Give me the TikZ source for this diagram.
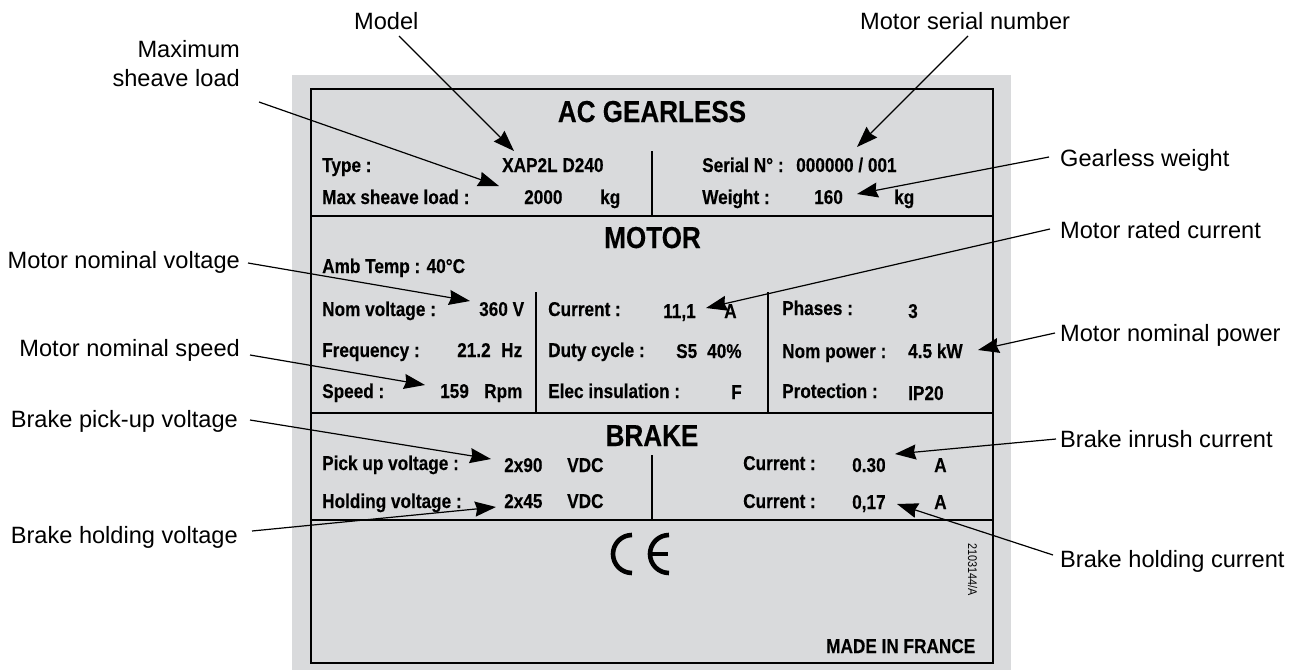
\documentclass[tikz,border=0pt]{standalone}
\usepackage{fontspec}
\setmainfont{Liberation Sans}
\newfontfamily\narrowb[FakeStretch=0.86,FakeBold=0.25]{Liberation Sans Bold}
\newfontfamily\narrowr[FakeStretch=0.86]{Liberation Sans}
\usetikzlibrary{arrows.meta}
\definecolor{plate}{HTML}{D9DADC}
\tikzset{
  lbl/.style={inner sep=0pt,text height=17pt,text depth=5pt,anchor=base west,font=\fontsize{23.6}{28}\selectfont,text=black},
  lble/.style={lbl,anchor=base east},
  txt/.style={inner sep=0pt,anchor=base west,font=\narrowb\fontsize{20}{24}\selectfont,text=black},
  head/.style={inner sep=0pt,anchor=base,font=\narrowb\fontsize{30.3}{34}\selectfont,text=black},
  callout/.style={draw=black,line width=1.2pt,-{Stealth[length=21pt,width=15pt,inset=2pt]}},
  rule/.style={draw=black,line width=1.2pt},
  frame/.style={draw=black,line width=2.4pt},
  cemark/.style={draw=black,line width=4.6pt}
}
\begin{document}
\begin{tikzpicture}[x=1pt,y=-1pt]
\useasboundingbox (0,0) rectangle (1299,670);
\fill[plate] (292,75) rectangle (1011,670);
\draw[frame] (310.8,89) rectangle (993,662.8);
% rules
\draw[rule] (310.8,216) -- (993,216);
\draw[rule] (310.8,413) -- (993,413);
\draw[rule] (310.8,520) -- (993,520);
\draw[rule] (652,151) -- (652,216);
\draw[rule] (652,455) -- (652,520);
\draw[rule] (536,292) -- (536,413);
\draw[rule] (768,292) -- (768,413);
% headings
\node[head] (hAC) at (652,122) {AC GEARLESS};
\node[head] (hMO) at (652.5,248) {MOTOR};
\node[head] (hBR) at (652,446) {BRAKE};
% top block
\node[txt] (a1) at (322,172) {Type :};
\node[txt] (a2) at (502,172) {XAP2L D240};
\node[txt] (a3) at (322,204) {Max sheave load :};
\node[txt] (a4) at (524,204) {2000};
\node[txt] (a5) at (600,204) {kg};
\node[txt] (a6) at (702,172) {Serial N° :};
\node[txt] (a7) at (796,172) {000000 / 001};
\node[txt] (a8) at (702,204) {Weight :};
\node[txt] (a9) at (814,204) {160};
\node[txt] (a10) at (894,204) {kg};
% motor block
\node[txt] (b0) at (322,273) {Amb Temp : 40°C};
\node[txt] (b1) at (322,316) {Nom voltage :};
\node[txt] (b2) at (479,316) {360 V};
\node[txt] (b3) at (548,316) {Current :};
\node[txt] (b4) at (663,318) {11,1};
\node[txt] (b5) at (724,318) {A};
\node[txt] (b6) at (782,315) {Phases :};
\node[txt] (b7) at (908,318) {3};
\node[txt] (c1) at (322,357) {Frequency :};
\node[txt] (c2) at (457,357) {21.2};
\node[txt] (c3) at (501,357) {Hz};
\node[txt] (c4) at (548,357) {Duty cycle :};
\node[txt] (c5) at (676,358) {S5};
\node[txt] (c6) at (707,358) {40\%};
\node[txt] (c7) at (782,358) {Nom power :};
\node[txt] (c8) at (908,358) {4.5 kW};
\node[txt] (d1) at (322,398) {Speed :};
\node[txt] (d2) at (440,398) {159};
\node[txt] (d3) at (484,398) {Rpm};
\node[txt] (d4) at (548,398) {Elec insulation :};
\node[txt] (d5) at (731,399) {F};
\node[txt] (d6) at (782,398) {Protection :};
\node[txt] (d7) at (908,400) {IP20};
% brake block
\node[txt] (e1) at (322,470) {Pick up voltage :};
\node[txt] (e2) at (504,472) {2x90};
\node[txt] (e3) at (567,472) {VDC};
\node[txt] (e4) at (743,470) {Current :};
\node[txt] (e5) at (852,472) {0.30};
\node[txt] (e6) at (934,472) {A};
\node[txt] (f1) at (322,508) {Holding voltage :};
\node[txt] (f2) at (504,508) {2x45};
\node[txt] (f3) at (567,508) {VDC};
\node[txt] (f4) at (743,508) {Current :};
\node[txt] (f5) at (852,509) {0,17};
\node[txt] (f6) at (934,509) {A};
% bottom block
\node[txt] (g1) at (826,653) {MADE IN FRANCE};
\node[inner sep=0pt,rotate=-90,font=\narrowr\fontsize{12.6}{15}\selectfont,text=black] (g2) at (972.5,570) {2103144/A};
\draw[cemark] (632,573) arc[start angle=90,end angle=270,radius=19];
\draw[cemark] (669,573) arc[start angle=90,end angle=270,radius=19];
\draw[cemark] (650,554) -- (668,554);
% callout labels
\node[lbl] (lModel) at (354,29.5) {Model};
\node[lbl] (lSerial) at (860,29.5) {Motor serial number};
\node[lble] (lMax1) at (240,57) {Maximum};
\node[lble] (lMax2) at (240,86) {sheave load};
\node[lble] (lNV) at (240,268) {Motor nominal voltage};
\node[lble] (lNS) at (240,356) {Motor nominal speed};
\node[lble] (lPU) at (238,427) {Brake pick-up voltage};
\node[lble] (lHV) at (238,543) {Brake holding voltage};
\node[lbl] (lGW) at (1060,166) {Gearless weight};
\node[lbl] (lRC) at (1060,238) {Motor rated current};
\node[lbl] (lNP) at (1060,341) {Motor nominal power};
\node[lbl] (lIC) at (1060,447) {Brake inrush current};
\node[lbl] (lHC) at (1060,567) {Brake holding current};
% arrow tips
\coordinate (tModel) at (514,151);
\coordinate (tMax) at (499,186);
\coordinate (tSerial) at (857,147);
\coordinate (tGW) at (857,194);
\coordinate (tRC) at (706,308);
\coordinate (tNP) at (978,350);
\coordinate (tNV) at (470,301);
\coordinate (tNS) at (425,385);
\coordinate (tPU) at (491,459);
\coordinate (tHV) at (496,507);
\coordinate (tIC) at (895,454);
\coordinate (tHC) at (897,504);
% callouts
\draw[callout] ([shift={(45,12.5)}]lModel.west) -- (tModel);
\draw[callout] ([shift={(108,12.5)}]lSerial.west) -- (tSerial);
\draw[callout] ([shift={(19,22)}]lMax2.east) -- (tMax);
\draw[callout] ([shift={(8,1)}]lNV.east) -- (tNV);
\draw[callout] ([shift={(10,5)}]lNS.east) -- (tNS);
\draw[callout] ([shift={(12,-1)}]lPU.east) -- (tPU);
\draw[callout] ([shift={(14,-6)}]lHV.east) -- (tHV);
\draw[callout] ([shift={(-11,-3)}]lGW.west) -- (tGW);
\draw[callout] ([shift={(-10,-3)}]lRC.west) -- (tRC);
\draw[callout] ([shift={(-5,-2)}]lNP.west) -- (tNP);
\draw[callout] ([shift={(-4,-2)}]lIC.west) -- (tIC);
\draw[callout] ([shift={(-7,-6)}]lHC.west) -- (tHC);
\end{tikzpicture}
\end{document}
